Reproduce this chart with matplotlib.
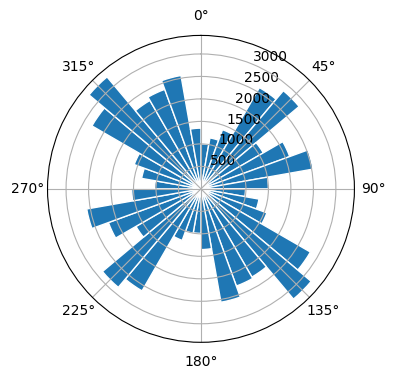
import numpy as np
import matplotlib.pyplot as plt

# direction bins, 10 degrees each, starting at north and going clockwise
bin_edges_deg = np.arange(0, 360, 10)
counts = [1000, 1150, 1400, 2600, 2850, 1600, 2100, 2530, 1500,
          990, 1310, 1560, 2810, 3200, 2265, 2300, 2560, 1350,
          990, 1000, 1220, 2620, 2860, 1670, 2190, 2580, 1540,
          1030, 1340, 1580, 2800, 3250, 2270, 2355, 2560, 1350]

fig = plt.figure(figsize=(3.96, 3.8), dpi=100)
ax = fig.add_axes([0.12, 0.099, 0.775, 0.808], projection='polar')
ax.set_theta_zero_location('N')
ax.set_theta_direction(-1)

ax.bar(np.deg2rad(bin_edges_deg), counts, width=np.deg2rad(10), align='edge',
       color='C0', edgecolor='white', linewidth=1)

ax.set_yticks([500, 1000, 1500, 2000, 2500, 3000])

fig.savefig('out.png', dpi=100)
